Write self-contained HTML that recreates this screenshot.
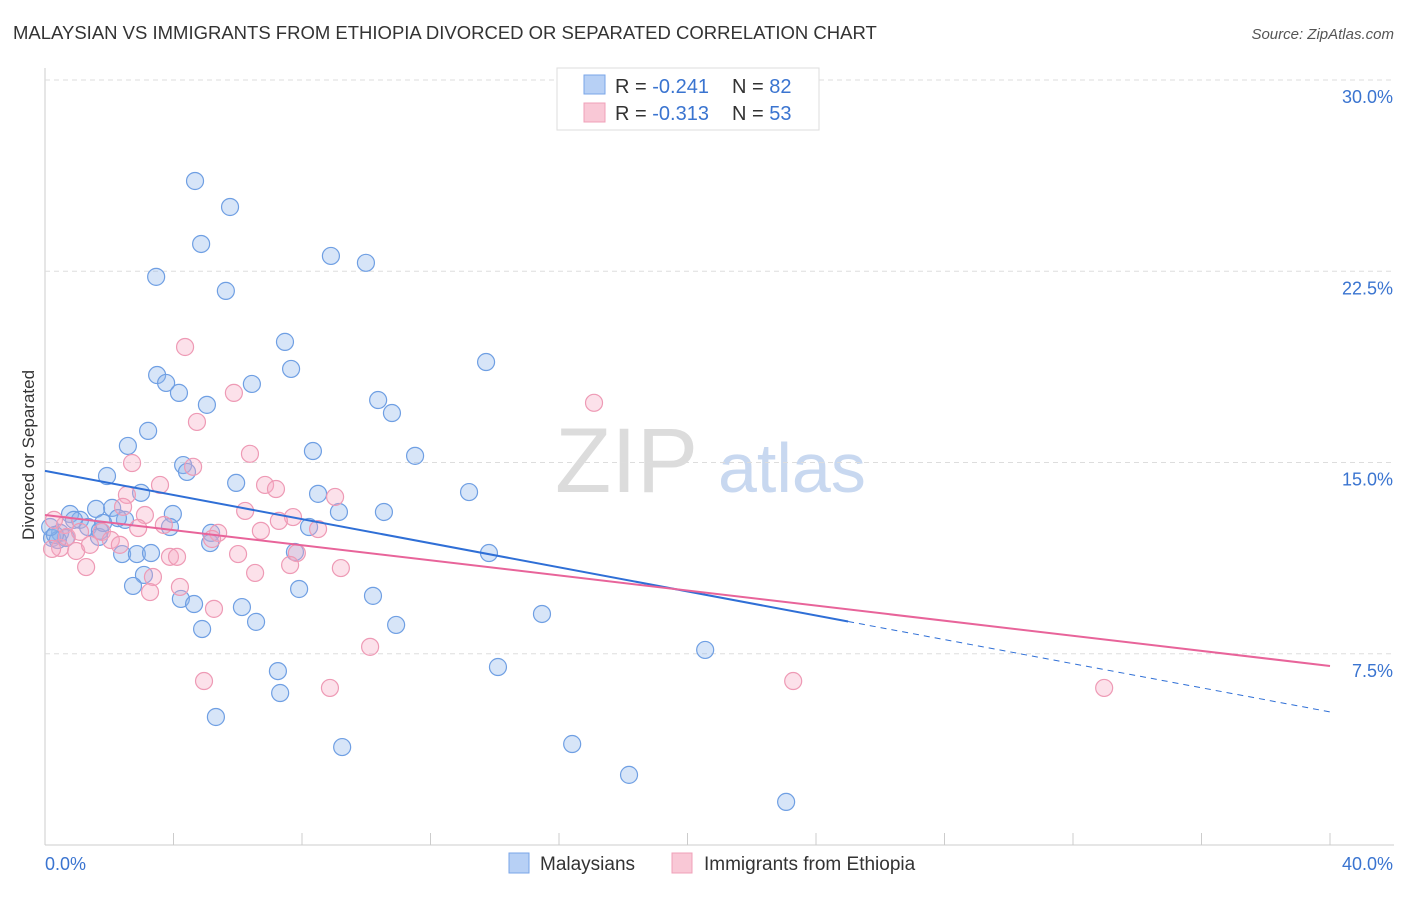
<!DOCTYPE html>
<html><head><meta charset="utf-8"><style>
body{margin:0;background:#fff;font-family:"Liberation Sans",sans-serif;}
svg text{font-family:"Liberation Sans",sans-serif;}
</style></head><body>
<svg id="c" width="1406" height="892" xmlns="http://www.w3.org/2000/svg">
<text x="13" y="39" font-size="18.5" fill="#333">MALAYSIAN VS IMMIGRANTS FROM ETHIOPIA DIVORCED OR SEPARATED CORRELATION CHART</text>
<text x="1394" y="39" font-size="15" fill="#555" font-style="italic" text-anchor="end">Source: ZipAtlas.com</text>
<text x="34" y="455" font-size="17" fill="#333" transform="rotate(-90 34 455)" text-anchor="middle">Divorced or Separated</text>
<text x="555" y="492" font-size="92" fill="#dcdcdc" font-family="Liberation Serif">ZIP</text>
<text x="718" y="492" font-size="70" fill="#c8d8f0">atlas</text>
<g id="grid"></g><g id="pts"></g><g id="lines"></g>
<g>
<rect x="557" y="68" width="262" height="62" fill="#fff" stroke="#ddd"/>
<rect x="584" y="75" width="21" height="19" fill="#b7d0f5" stroke="#7aa6e8"/>
<rect x="584" y="103" width="21" height="19" fill="#f9c8d6" stroke="#f0a0b8"/>
<text x="615" y="93" font-size="20" fill="#333">R = <tspan fill="#3a74d0">-0.241</tspan></text>
<text x="732" y="93" font-size="20" fill="#333">N = <tspan fill="#3a74d0">82</tspan></text>
<text x="615" y="120" font-size="20" fill="#333">R = <tspan fill="#3a74d0">-0.313</tspan></text>
<text x="732" y="120" font-size="20" fill="#333">N = <tspan fill="#3a74d0">53</tspan></text>
</g>
<g>
<rect x="509" y="853" width="20" height="20" fill="#b7d0f5" stroke="#7aa6e8"/>
<text x="540" y="870" font-size="19" fill="#333">Malaysians</text>
<rect x="672" y="853" width="20" height="20" fill="#f9c8d6" stroke="#f0a0b8"/>
<text x="704" y="870" font-size="19" fill="#333">Immigrants from Ethiopia</text>
</g>
</svg>
<script>
const yTicks=[7.5,15,22.5,30];
const yTickLabels=["7.5%","15.0%","22.5%","30.0%"];
const xTickLabels=["0.0%","40.0%"];
const blueX=[4.67,5.76,4.86,3.46,5.63,8.90,9.99,7.47,7.66,13.73,3.49,3.77,4.17,6.44,5.04,10.37,10.80,3.21,2.58,8.34,11.52,4.30,4.42,1.93,5.95,2.99,13.20,8.50,1.59,0.78,2.09,1.09,3.98,9.15,10.55,2.49,2.27,1.34,1.71,3.89,5.17,8.22,0.47,0.65,0.22,0.40,1.68,5.14,7.78,13.82,2.40,2.86,3.30,3.08,2.74,4.23,4.64,7.91,10.21,6.13,15.47,6.57,10.93,4.89,20.55,7.25,14.10,7.32,5.32,9.25,16.41,18.18,23.07,0.16,0.31,0.90,1.81];
const blueY=[26.04,25.02,23.57,22.28,21.73,23.10,22.83,19.73,18.67,18.94,18.43,18.12,17.73,18.08,17.26,17.45,16.94,16.24,15.65,15.45,15.26,14.90,14.63,14.47,14.20,13.81,13.84,13.77,13.18,12.98,13.22,12.75,12.98,13.06,13.06,12.75,12.82,12.47,12.32,12.47,12.24,12.47,12.24,12.04,12.04,11.96,12.08,11.84,11.49,11.45,11.41,11.41,11.45,10.59,10.16,9.65,9.45,10.04,9.77,9.33,9.06,8.75,8.63,8.47,7.65,6.82,6.98,5.96,5.02,3.84,3.96,2.75,1.69,12.47,12.16,12.75,12.63];
const pinkX=[4.36,5.88,17.09,4.73,6.38,2.71,4.61,3.58,6.85,7.19,9.03,2.55,2.43,6.23,3.11,7.72,3.70,7.28,6.72,8.50,5.39,5.20,2.90,1.77,2.05,0.62,0.28,0.47,0.97,0.22,1.40,2.33,6.01,7.84,3.89,4.11,7.63,9.21,6.54,1.28,3.36,4.20,3.27,5.26,10.12,4.95,8.87,23.29,32.97,0.68,1.09];
const pinkY=[19.53,17.73,17.34,16.59,15.34,14.98,14.83,14.12,14.12,13.96,13.65,13.73,13.26,13.10,12.94,12.86,12.55,12.71,12.32,12.39,12.24,12.00,12.43,12.28,11.96,12.55,12.75,11.65,11.53,11.61,11.77,11.77,11.41,11.45,11.30,11.30,10.98,10.86,10.67,10.90,10.51,10.12,9.92,9.26,7.77,6.43,6.16,6.43,6.16,12.08,12.28];
const blueTrend=[14.67,5.22], blueSolidEnd=25.0;
const pinkTrend=[12.94,7.02];
const NS="http://www.w3.org/2000/svg";
const X=v=>45+v/40*1285, Y=v=>845-v/30*765;
function mk(t,a,p){const e=document.createElementNS(NS,t);for(const k in a)e.setAttribute(k,a[k]);p.appendChild(e);return e;}
const g=document.getElementById('grid');
let ax=mk('line',{x1:45,y1:68,x2:45,y2:845,stroke:'#ccc'},g);


let bx=mk('line',{x1:45,y1:845,x2:1394,y2:845,stroke:'#ccc'},g);


for(let i=0;i<=10;i++){let t=mk('line',{x1:X(i*4),y1:845,x2:X(i*4),y2:833,stroke:'#ccc'},g);

}
yTicks.forEach((v,i)=>{let l=mk('line',{x1:45,y1:Y(v),x2:1394,y2:Y(v),stroke:'#ddd','stroke-dasharray':'5,4'},g);


let t=mk('text',{x:1393,y:Y(v)+23,'font-size':18,fill:'#3a74d0','text-anchor':'end'},g);t.textContent=yTickLabels[i];

});
[[0,45,'start'],[1,1393,'end']].forEach(([i,x,a])=>{let t=mk('text',{x:x,y:870,'font-size':18,fill:'#3a74d0','text-anchor':a},g);t.textContent=xTickLabels[i];

});
const p=document.getElementById('pts');
blueX.forEach((v,i)=>{let c=mk('circle',{cx:X(v),cy:Y(blueY[i]),r:8.5,fill:'rgba(140,180,235,0.35)',stroke:'#6f9fe3','stroke-width':1.2},p);

});
pinkX.forEach((v,i)=>{let c=mk('circle',{cx:X(v),cy:Y(pinkY[i]),r:8.5,fill:'rgba(245,170,195,0.35)',stroke:'#ee9ab5','stroke-width':1.2},p);

});
const L=document.getElementById('lines');
const by=x=>blueTrend[0]+(blueTrend[1]-blueTrend[0])*x/40;
let b1=mk('line',{x1:X(0),y1:Y(by(0)),x2:X(blueSolidEnd),y2:Y(by(blueSolidEnd)),stroke:'#2f6fd6','stroke-width':2},L);


let b2=mk('line',{x1:X(blueSolidEnd),y1:Y(by(blueSolidEnd)),x2:X(40),y2:Y(by(40)),stroke:'#2f6fd6','stroke-width':1,'stroke-dasharray':'6,5'},L);


let pl=mk('line',{x1:X(0),y1:Y(pinkTrend[0]),x2:X(40),y2:Y(pinkTrend[1]),stroke:'#e8649a','stroke-width':2},L);


</script>
</body></html>
